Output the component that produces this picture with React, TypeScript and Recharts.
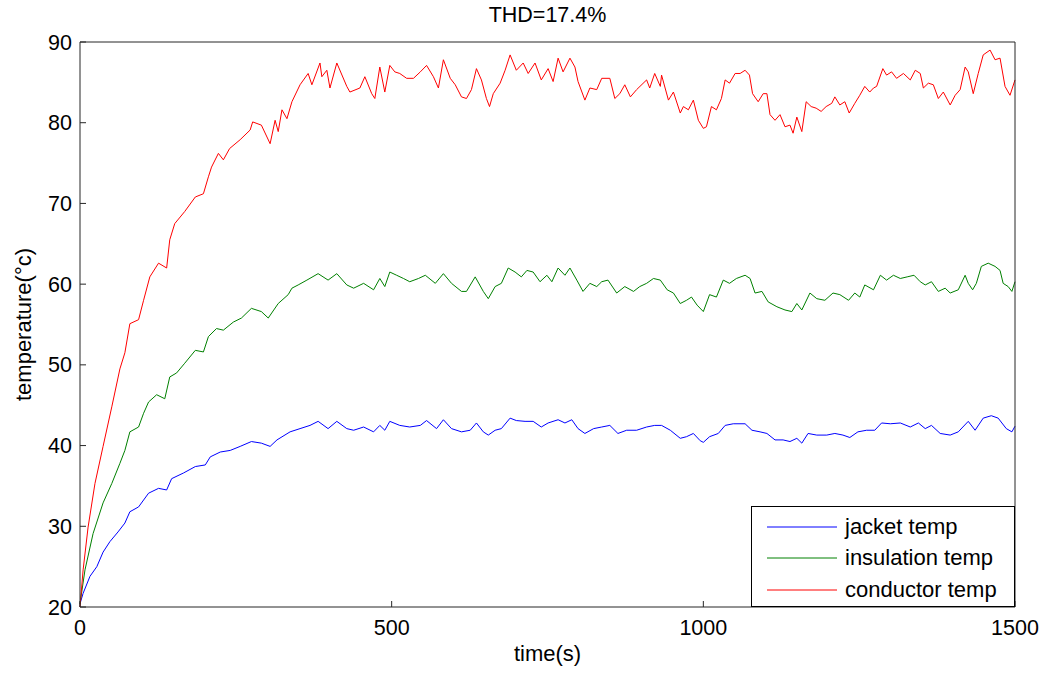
import React from 'react';
import { LineChart, Line, XAxis, YAxis, Legend } from 'recharts';

// [time (s), temperature (°C)]
const jacketTemp: [number, number][] = [
  [0, 20.4], [5, 21.7], [16, 23.8], [27, 25.0], [37, 26.8], [48, 28.1], [61, 29.3], [72, 30.4],
  [80, 31.8], [94, 32.4], [110, 34.1], [126, 34.7], [139, 34.5], [147, 35.9], [166, 36.6],
  [185, 37.4], [201, 37.6], [209, 38.6], [225, 39.2], [241, 39.4], [257, 39.9], [275, 40.5],
  [291, 40.3], [305, 39.9], [316, 40.7], [337, 41.7], [353, 42.1], [369, 42.5], [382, 43.0],
  [398, 42.1], [412, 43.0], [428, 42.1], [439, 41.9], [455, 42.3], [471, 41.7], [481, 42.5],
  [489, 41.9], [497, 43.0], [513, 42.5], [529, 42.3], [546, 42.5], [556, 43.1], [572, 42.1],
  [583, 43.2], [596, 42.1], [612, 41.7], [626, 41.9], [636, 42.8], [647, 41.7], [655, 41.3],
  [666, 41.9], [676, 42.1], [690, 43.4], [700, 43.1], [714, 43.0], [727, 43.0], [740, 42.3],
  [751, 42.8], [767, 43.2], [778, 42.8], [789, 43.2], [799, 42.1], [810, 41.5], [824, 42.1],
  [837, 42.3], [850, 42.5], [863, 41.5], [877, 41.9], [893, 41.9], [909, 42.3], [922, 42.5],
  [933, 42.5], [947, 41.9], [963, 40.9], [973, 41.1], [984, 41.5], [995, 40.6], [1000, 40.4],
  [1010, 41.1], [1024, 41.5], [1035, 42.5], [1048, 42.7], [1067, 42.7], [1078, 41.9],
  [1091, 41.7], [1102, 41.5], [1115, 40.7], [1128, 40.7], [1139, 40.5], [1150, 40.9],
  [1158, 40.3], [1168, 41.5], [1182, 41.3], [1198, 41.3], [1211, 41.5], [1224, 41.3],
  [1235, 41.0], [1248, 41.7], [1262, 41.9], [1275, 41.9], [1286, 42.8], [1300, 42.7],
  [1316, 42.8], [1332, 42.3], [1345, 42.8], [1356, 42.1], [1366, 42.5], [1380, 41.5],
  [1396, 41.3], [1409, 41.7], [1425, 43.0], [1436, 41.9], [1449, 43.4], [1462, 43.7],
  [1473, 43.4], [1486, 42.1], [1495, 41.7], [1500, 42.4],
];

const insulationTemp: [number, number][] = [
  [0, 20.4], [8, 24.6], [21, 29.1], [37, 32.9], [51, 35.3], [64, 37.8], [72, 39.4], [80, 41.7],
  [94, 42.3], [102, 44.0], [110, 45.4], [123, 46.3], [136, 45.8], [144, 48.5], [155, 49.0],
  [168, 50.2], [185, 51.8], [198, 51.6], [206, 53.5], [219, 54.5], [230, 54.3], [246, 55.3],
  [259, 55.8], [275, 57.0], [291, 56.6], [302, 55.8], [318, 57.6], [334, 58.7], [340, 59.5],
  [350, 59.9], [364, 60.5], [382, 61.3], [398, 60.5], [412, 61.3], [428, 59.9], [439, 59.5],
  [455, 60.1], [471, 59.3], [481, 60.7], [489, 59.7], [497, 61.5], [508, 61.1], [519, 60.7],
  [529, 60.3], [543, 60.7], [554, 61.1], [570, 60.1], [583, 61.3], [596, 60.1], [612, 59.1],
  [620, 59.1], [634, 60.9], [647, 59.1], [655, 58.2], [666, 59.7], [676, 60.1], [687, 62.0],
  [698, 61.5], [708, 60.9], [717, 61.7], [727, 61.5], [738, 60.3], [749, 61.1], [757, 60.3],
  [767, 62.0], [778, 61.1], [786, 62.0], [797, 60.5], [807, 59.1], [818, 60.1], [829, 59.7],
  [837, 60.3], [847, 60.5], [861, 58.9], [874, 59.7], [888, 59.1], [898, 59.7], [909, 60.1],
  [920, 60.7], [931, 60.5], [942, 59.3], [952, 58.9], [963, 57.6], [973, 58.0], [981, 58.4],
  [990, 57.4], [1000, 56.6], [1010, 58.7], [1021, 58.4], [1032, 60.5], [1042, 60.1],
  [1053, 60.7], [1067, 61.1], [1075, 60.7], [1083, 58.9], [1094, 59.1], [1104, 57.8],
  [1118, 57.2], [1131, 56.8], [1142, 56.6], [1150, 57.6], [1158, 56.8], [1171, 58.9],
  [1182, 58.2], [1195, 58.0], [1208, 58.9], [1219, 58.7], [1233, 58.0], [1243, 58.9],
  [1251, 58.4], [1259, 59.9], [1273, 59.3], [1284, 61.1], [1294, 60.5], [1305, 61.1],
  [1316, 60.7], [1327, 60.9], [1338, 61.1], [1348, 60.3], [1356, 59.9], [1366, 60.3],
  [1377, 59.1], [1388, 59.5], [1396, 58.9], [1409, 59.3], [1420, 61.1], [1425, 60.1],
  [1432, 59.3], [1438, 60.1], [1446, 62.2], [1457, 62.6], [1468, 62.2], [1476, 61.7],
  [1481, 60.1], [1489, 59.7], [1495, 59.1], [1500, 60.3],
];

const conductorTemp: [number, number][] = [
  [0, 20.0], [5, 24.6], [13, 29.9], [24, 35.3], [37, 39.9], [51, 44.8], [64, 49.5], [72, 51.5],
  [80, 55.1], [94, 55.6], [102, 58.0], [112, 60.9], [126, 62.6], [139, 62.0], [144, 65.5],
  [152, 67.5], [168, 69.0], [185, 70.8], [198, 71.2], [206, 73.3], [211, 74.5], [222, 76.2],
  [230, 75.4], [240, 76.8], [257, 77.9], [273, 79.1], [277, 80.1], [291, 79.7], [305, 77.4],
  [313, 80.3], [318, 78.9], [324, 81.6], [332, 80.5], [340, 82.6], [353, 84.7], [366, 86.1],
  [372, 84.7], [385, 87.4], [388, 85.7], [396, 86.5], [401, 84.3], [412, 87.4], [428, 84.5],
  [433, 83.8], [449, 84.3], [457, 85.7], [468, 83.6], [473, 83.0], [481, 86.9], [489, 83.8],
  [497, 87.1], [505, 86.3], [513, 86.1], [524, 85.5], [535, 85.5], [546, 86.3], [556, 87.1],
  [567, 85.7], [575, 84.3], [583, 87.8], [594, 85.5], [602, 84.7], [612, 83.2], [620, 83.0],
  [628, 84.1], [636, 86.7], [644, 85.3], [652, 83.0], [657, 82.0], [663, 83.6], [674, 84.9],
  [682, 86.5], [690, 88.4], [700, 86.5], [711, 87.4], [719, 86.1], [730, 87.4], [740, 85.3],
  [751, 86.7], [759, 85.1], [767, 88.0], [775, 86.3], [786, 88.0], [794, 86.9], [799, 85.1],
  [810, 82.8], [818, 84.3], [829, 84.1], [837, 85.5], [850, 85.5], [858, 83.0], [866, 83.6],
  [874, 84.7], [883, 83.2], [893, 84.1], [909, 85.3], [914, 84.3], [922, 86.1], [931, 84.5],
  [933, 85.9], [944, 82.8], [952, 83.8], [963, 81.2], [968, 82.0], [976, 81.6], [984, 82.8],
  [992, 80.3], [1000, 79.3], [1005, 79.5], [1013, 82.0], [1021, 81.6], [1029, 83.0],
  [1035, 85.3], [1042, 84.9], [1051, 86.1], [1059, 86.1], [1067, 86.5], [1074, 85.9],
  [1079, 83.6], [1088, 82.6], [1096, 83.6], [1102, 83.6], [1107, 81.0], [1115, 80.3],
  [1123, 81.0], [1131, 79.5], [1139, 79.7], [1144, 78.7], [1150, 80.7], [1158, 78.9],
  [1165, 82.6], [1173, 82.0], [1181, 81.8], [1189, 81.4], [1197, 82.0], [1206, 82.4],
  [1211, 83.2], [1219, 82.2], [1227, 82.6], [1234, 81.2], [1243, 82.4], [1251, 83.4],
  [1259, 84.5], [1267, 83.8], [1273, 84.3], [1278, 84.5], [1288, 86.7], [1294, 85.9],
  [1302, 86.3], [1310, 85.5], [1321, 86.1], [1332, 85.3], [1340, 86.5], [1348, 86.1],
  [1353, 84.3], [1361, 84.9], [1369, 84.7], [1377, 83.0], [1385, 83.8], [1396, 82.2],
  [1404, 83.4], [1412, 84.1], [1420, 86.9], [1425, 86.3], [1433, 83.6], [1441, 86.1],
  [1449, 88.4], [1460, 89.0], [1468, 87.8], [1476, 88.0], [1484, 84.5], [1492, 83.4],
  [1500, 85.3],
];

const xTicks = [0, 500, 1000, 1500];
const yTicks = [20, 30, 40, 50, 60, 70, 80, 90];

// axis ids: the conductor line also feeds the top axis, the jacket line the right axis,
// so the mirrored frame axes get a domain (all share the same range)
const series = [
  { name: 'jacket temp', color: '#0000ff', points: jacketTemp, xId: 'bottom', yId: 'right' },
  { name: 'insulation temp', color: '#008000', points: insulationTemp, xId: 'bottom', yId: 'left' },
  { name: 'conductor temp', color: '#ff0000', points: conductorTemp, xId: 'top', yId: 'left' },
];

const toRows = (pts: [number, number][]) => pts.map(([t, v]) => ({ t, v }));

const FONT = 'Liberation Sans, Arial, sans-serif';
const AXIS = '#262626';
const TICK_LEN = 6;
const X_MARGIN = 13;
const Y_MARGIN = 8;
const TICK_FONT = 21.5;
const LABEL_FONT = 22;

// label below the axis plus a tick pointing up into the plot
const BottomTick = (props: any) => {
  const { x, y, payload } = props;
  const axisY = y - X_MARGIN;
  return (
    <g>
      <line x1={x} x2={x} y1={axisY} y2={axisY - TICK_LEN} stroke={AXIS} />
      <text x={x} y={y} dy="0.71em" textAnchor="middle" fill="#000" fontSize={TICK_FONT} fontFamily={FONT}>
        {payload.value}
      </text>
    </g>
  );
};

const LeftTick = (props: any) => {
  const { x, y, payload } = props;
  const axisX = x + Y_MARGIN;
  return (
    <g>
      <line x1={axisX} x2={axisX + TICK_LEN} y1={y} y2={y} stroke={AXIS} />
      <text x={x} y={y} dy="0.355em" textAnchor="end" fill="#000" fontSize={TICK_FONT} fontFamily={FONT}>
        {payload.value}
      </text>
    </g>
  );
};

const LegendBox = () => (
  <div
    style={{
      border: '1px solid #000',
      background: '#fff',
      width: 264,
      height: 101,
      boxSizing: 'border-box',
      fontFamily: FONT,
      fontSize: 22,
      color: '#000',
      paddingTop: 4,
    }}
  >
    {series.map((s) => (
      <div key={s.name} style={{ display: 'flex', alignItems: 'center', height: 31.5 }}>
        <svg width={93} height={10}>
          <line x1={15} x2={85} y1={5} y2={5} stroke={s.color} strokeWidth={1} />
        </svg>
        <span>{s.name}</span>
      </div>
    ))}
  </div>
);

export default function App() {
  return (
    <div style={{ position: 'absolute', left: 0, top: 0, width: 1047, height: 673, background: '#fff' }}>
      <div
        style={{
          position: 'absolute',
          left: 80,
          width: 935,
          top: 3,
          textAlign: 'center',
          fontFamily: FONT,
          fontSize: TICK_FONT,
          color: '#000',
        }}
      >
        THD=17.4%
      </div>
      <LineChart
        width={1047}
        height={673}
        margin={{ top: 42, right: 32, bottom: 36, left: 0 }}
        style={{ fontFamily: FONT }}
      >
        <XAxis
          xAxisId="bottom"
          dataKey="t"
          type="number"
          domain={[0, 1500]}
          ticks={xTicks}
          allowDuplicatedCategory={false}
          height={30}
          tickSize={0}
          tickLine={false}
          tickMargin={X_MARGIN}
          stroke={AXIS}
          tick={<BottomTick />}
          label={{ value: 'time(s)', position: 'bottom', offset: 8, fill: '#000', fontSize: LABEL_FONT }}
        />
        <XAxis
          xAxisId="top"
          dataKey="t"
          orientation="top"
          mirror
          type="number"
          domain={[0, 1500]}
          ticks={xTicks}
          allowDuplicatedCategory={false}
          tickSize={TICK_LEN}
          tick={false}
          stroke={AXIS}
        />
        <YAxis
          yAxisId="left"
          type="number"
          domain={[20, 90]}
          ticks={yTicks}
          width={80}
          tickSize={0}
          tickLine={false}
          tickMargin={Y_MARGIN}
          stroke={AXIS}
          tick={<LeftTick />}
          label={{
            value: 'temperature(°c)',
            angle: -90,
            position: 'insideLeft',
            offset: 23,
            fill: '#000',
            fontSize: LABEL_FONT,
            style: { textAnchor: 'middle' },
          }}
        />
        <YAxis
          yAxisId="right"
          orientation="right"
          mirror
          type="number"
          domain={[20, 90]}
          ticks={yTicks}
          tickSize={TICK_LEN}
          tick={false}
          stroke={AXIS}
        />
        {series.map((s) => (
          <Line
            key={s.name}
            xAxisId={s.xId}
            yAxisId={s.yId}
            data={toRows(s.points)}
            dataKey="v"
            name={s.name}
            type="linear"
            stroke={s.color}
            strokeWidth={1}
            dot={false}
            activeDot={false}
            isAnimationActive={false}
          />
        ))}
        <Legend
          layout="horizontal"
          verticalAlign="middle"
          align="center"
          content={() => <LegendBox />}
          wrapperStyle={{ left: 751, top: 506, width: 264, right: 'auto', bottom: 'auto' }}
        />
      </LineChart>
    </div>
  );
}
